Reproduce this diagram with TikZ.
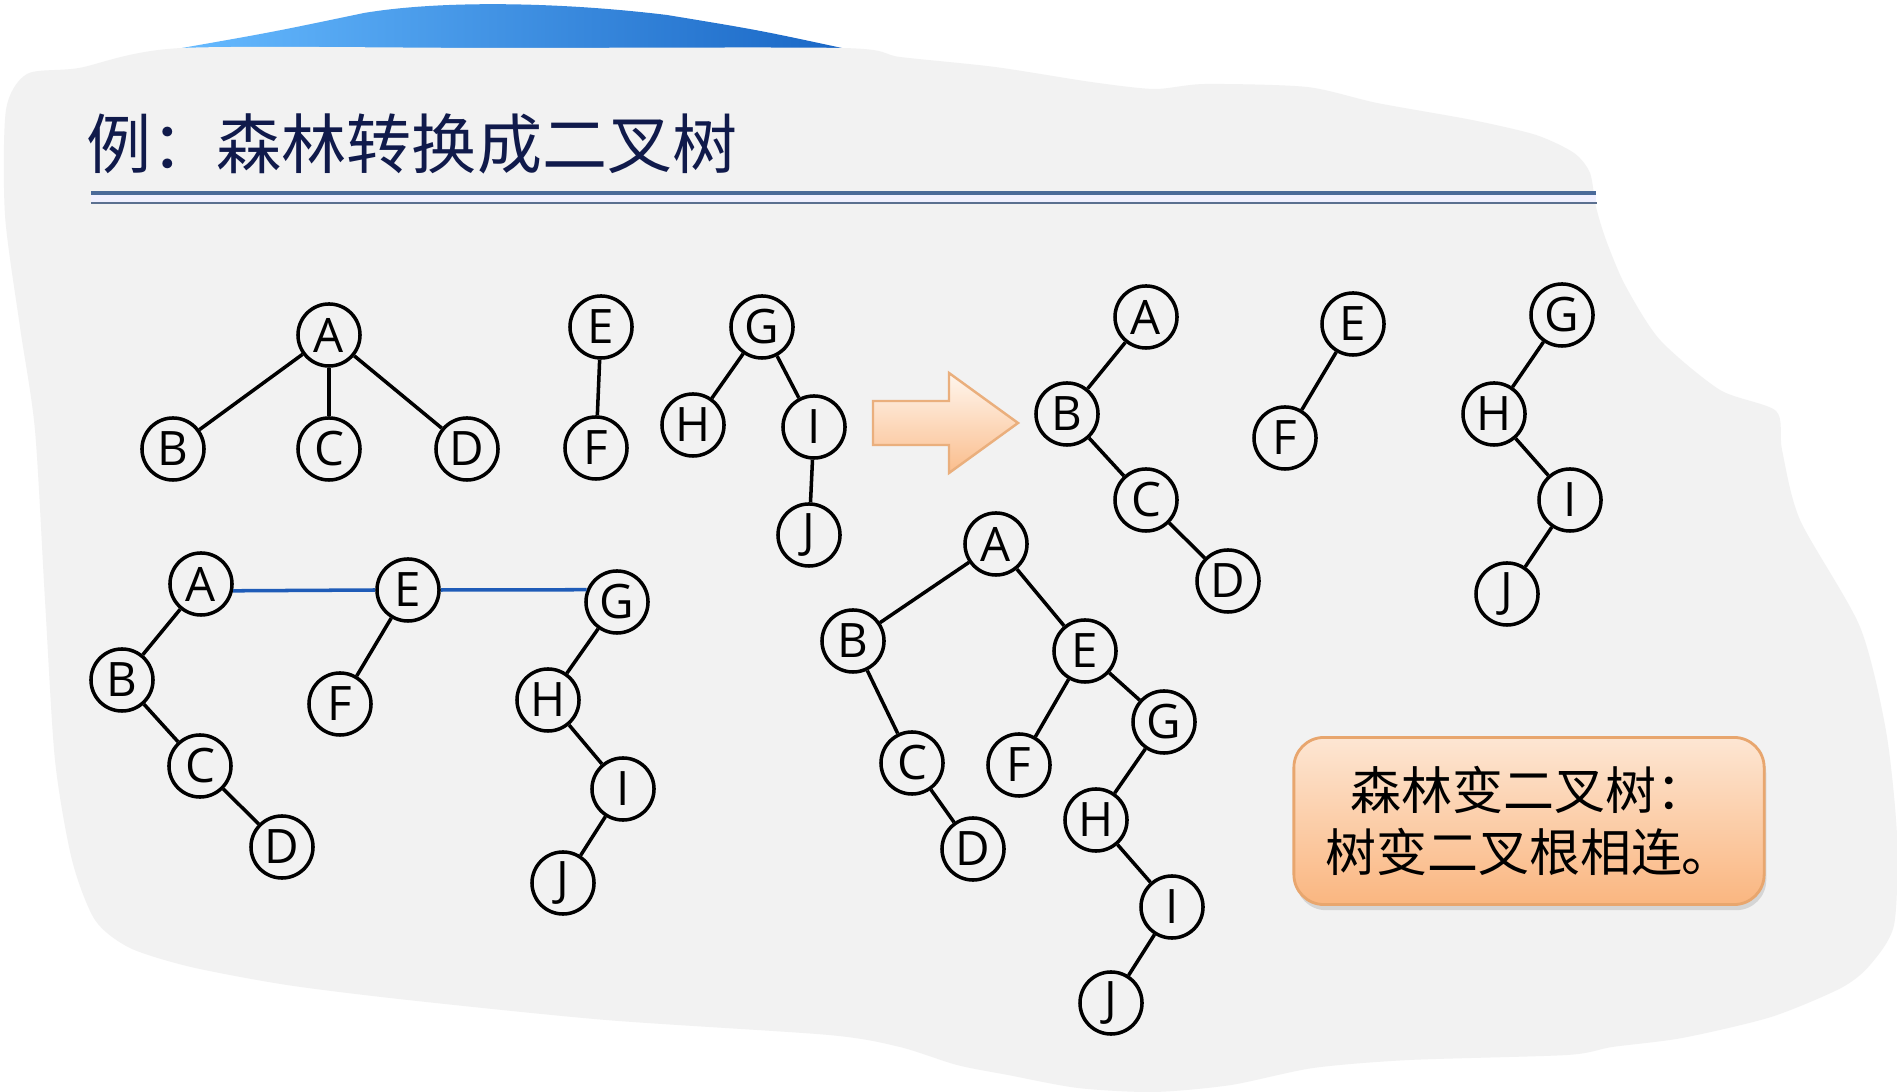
\documentclass[tikz,border=0pt]{standalone}
\usepackage{fontspec}
\setmainfont{Open Sans}
\newfontfamily\cjk{Noto Sans CJK SC}
\usetikzlibrary{shadows}

\definecolor{paper}{HTML}{F2F2F2}
\definecolor{titleblue}{RGB}{16,26,75}
\definecolor{rulea}{HTML}{4A6A9A}
\definecolor{ruleb}{HTML}{5B7090}
\definecolor{linkblue}{HTML}{1F5CB8}
\definecolor{peachtop}{HTML}{FDE6D3}
\definecolor{peachbot}{HTML}{FAB680}
\definecolor{peachline}{HTML}{E8A66E}

\begin{document}
\begin{tikzpicture}[x=0.01cm,y=-0.01cm,
  vtx/.style={circle,draw,line width=1pt,minimum size=0.62cm,inner sep=0pt,
    fill=paper,font=\fontsize{13.5}{13.5}\selectfont},
  tline/.style={line width=1pt},
  link/.style={line width=1pt,draw=linkblue},
  notebox/.style={draw=peachline,line width=0.8pt,rounded corners=0.3cm,
    top color=peachtop,bottom color=peachbot,minimum width=4.7cm,minimum height=1.67cm,
    align=center,font=\cjk\fontsize{14.5}{17.4}\selectfont,
    drop shadow={shadow xshift=0.6pt,shadow yshift=-1.6pt,opacity=0.25}}]

\useasboundingbox (0,0) rectangle (1897,1092);
\fill[white] (0,0) rectangle (1897,1092);

% background
\shade[left color=blue!45!cyan!60!white,right color=blue!55!cyan!75!black!90]
  (182,48) .. controls (273,32) .. (364,13) .. controls (442,0) and (560,2) .. (667,15)
  .. controls (758,30) .. (842,48) -- cycle;
\fill[paper] plot[smooth cycle,tension=0.45] coordinates {
  (27,74) (79,68) (182,48) (500,48) (842,48) (900,57) (995,67) (1091,82) (1154,89)
  (1205,84) (1307,87) (1377,103) (1472,120) (1536,135) (1574,153) (1590,173)
  (1596,207) (1606,240) (1625,285) (1660,340) (1720,390) (1776,411) (1782,450)
  (1800,520) (1860,627) (1886,731) (1897,836) (1894,925) (1870,965) (1841,988)
  (1771,1017) (1682,1038) (1612,1047) (1567,1055) (1409,1060) (1313,1068)
  (1231,1085) (1154,1092) (1078,1088) (1008,1075) (957,1065) (900,1047) (829,1035)
  (606,1020) (408,1000) (287,985) (191,967) (130,948) (95,920) (72,860) (55,760)
  (45,600) (35,430) (20,327) (5,215) (6,110)};

% title
\fill[blue!6] (91,193) rectangle (1596,203);
\draw[rulea,line width=1pt] (91,193) -- (1596,193);
\draw[ruleb,line width=0.7pt] (91,203) -- (1597,203);
\node[anchor=west,inner sep=0pt,text=titleblue,font=\cjk\fontsize{18.5}{20}\selectfont]
  (title) at (86,144) {例：森林转换成二叉树};

% the forest
\node[vtx] (a1) at (329,335) {A};
\node[vtx] (b1) at (173,449) {B};
\node[vtx] (c1) at (329,449) {C};
\node[vtx] (d1) at (467,449) {D};
\node[vtx] (e1) at (601,327) {E};
\node[vtx] (f1) at (596,448) {F};
\node[vtx] (g1) at (762,327) {G};
\node[vtx] (h1) at (693,425) {H};
\node[vtx] (i1) at (814,427) {I};
\node[vtx] (j1) at (809,535) {J};
\draw[tline] (a1)--(b1) (a1)--(c1) (a1)--(d1);
\draw[tline] (e1)--(f1);
\draw[tline] (g1)--(h1) (g1)--(i1) (i1)--(j1);

% arrow
\draw[line width=0.7pt,draw=peachline!90,top color=peachtop!80!orange!20,bottom color=peachbot!90]
  (873,401) -- (949,401) -- (949,373) -- (1018,423) -- (949,473) -- (949,445) -- (873,445) -- cycle;

% each tree as a binary tree
\node[vtx] (a2) at (1146,317) {A};
\node[vtx] (b2) at (1067,414) {B};
\node[vtx] (c2) at (1146,500) {C};
\node[vtx] (d2) at (1228,581) {D};
\node[vtx] (e2) at (1353,324) {E};
\node[vtx] (f2) at (1285,438) {F};
\node[vtx] (g2) at (1562,315) {G};
\node[vtx] (h2) at (1494,414) {H};
\node[vtx] (i2) at (1570,500) {I};
\node[vtx] (j2) at (1507,594) {J};
\draw[tline] (a2)--(b2) (b2)--(c2) (c2)--(d2);
\draw[tline] (e2)--(f2);
\draw[tline] (g2)--(h2) (h2)--(i2) (i2)--(j2);

% roots linked
\node[vtx] (a3) at (201,584) {A};
\node[vtx] (b3) at (122,680) {B};
\node[vtx] (c3) at (200,766) {C};
\node[vtx] (d3) at (282,847) {D};
\node[vtx] (e3) at (408,590) {E};
\node[vtx] (f3) at (340,704) {F};
\node[vtx] (g3) at (617,602) {G};
\node[vtx] (h3) at (548,700) {H};
\node[vtx] (i3) at (623,789) {I};
\node[vtx] (j3) at (563,883) {J};
\draw[tline] (a3)--(b3) (b3)--(c3) (c3)--(d3);
\draw[tline] (e3)--(f3);
\draw[tline] (g3)--(h3) (h3)--(i3) (i3)--(j3);
\draw[link] (a3.-12) -- (e3.west);
\draw[link] (e3.east) -- (g3.158);

% resulting binary tree
\node[vtx] (a4) at (996,544) {A};
\node[vtx] (b4) at (853,641) {B};
\node[vtx] (c4) at (912,763) {C};
\node[vtx] (d4) at (973,849) {D};
\node[vtx] (e4) at (1085,651) {E};
\node[vtx] (f4) at (1019,765) {F};
\node[vtx] (g4) at (1164,722) {G};
\node[vtx] (h4) at (1096,820) {H};
\node[vtx] (i4) at (1172,907) {I};
\node[vtx] (j4) at (1111,1003) {J};
\draw[tline] (a4)--(b4) (b4)--(c4) (c4)--(d4);
\draw[tline] (a4)--(e4) (e4)--(f4) (e4)--(g4);
\draw[tline] (g4)--(h4) (h4)--(i4) (i4)--(j4);

% note
\node[notebox] (note) at (1529,821) {森林变二叉树：\\树变二叉根相连。};
\end{tikzpicture}
\end{document}
